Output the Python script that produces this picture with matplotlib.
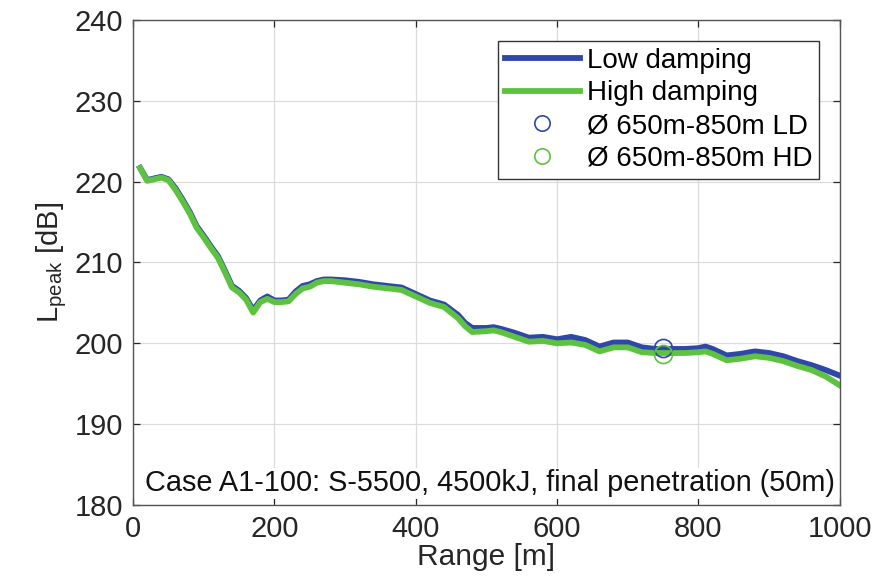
import matplotlib
matplotlib.use("Agg")
import matplotlib.pyplot as plt

plt.rcParams['font.family'] = ['Liberation Sans', 'DejaVu Sans']
plt.rcParams['mathtext.fontset'] = 'custom'
plt.rcParams['mathtext.rm'] = 'Liberation Sans'
plt.rcParams['mathtext.it'] = 'Liberation Sans'
plt.rcParams['mathtext.default'] = 'regular'

range_m = [10, 20, 30, 40, 50, 60, 70, 80, 90, 100, 110, 120, 130, 140, 150, 160, 170, 180,
           190, 200, 210, 220, 230, 240, 250, 260, 270, 280, 300, 320, 340, 360, 380, 400,
           420, 440, 460, 470, 480, 500, 510, 520, 540, 560, 580, 600, 620, 640, 660, 680,
           700, 720, 740, 760, 780, 800, 810, 820, 840, 860, 880, 900, 920, 940, 960, 980, 1000]

low_damping = [221.7, 220.2, 220.4, 220.6, 220.3, 219.2, 217.8, 216.3, 214.5, 213.3, 212.0,
               210.8, 209.0, 207.1, 206.5, 205.6, 204.1, 205.3, 205.8, 205.3, 205.3, 205.4,
               206.4, 207.1, 207.3, 207.7, 207.9, 207.9, 207.8, 207.6, 207.3, 207.1, 206.9,
               206.1, 205.3, 204.8, 203.5, 202.5, 201.9, 201.9, 202.0, 201.8, 201.3, 200.7,
               200.8, 200.5, 200.8, 200.4, 199.6, 200.1, 200.1, 199.5, 199.3, 199.3, 199.3,
               199.4, 199.6, 199.3, 198.5, 198.7, 199.0, 198.8, 198.4, 197.8, 197.3, 196.7, 196.0]

high_damping = [221.7, 220.1, 220.3, 220.5, 220.2, 219.0, 217.6, 216.1, 214.3, 213.1, 211.8,
                210.6, 208.8, 206.9, 206.3, 205.4, 203.8, 205.1, 205.5, 205.1, 205.1, 205.2,
                206.1, 206.8, 207.0, 207.5, 207.7, 207.7, 207.5, 207.3, 207.0, 206.8, 206.6,
                205.8, 205.0, 204.5, 203.1, 202.1, 201.4, 201.5, 201.6, 201.4, 200.8, 200.2,
                200.3, 200.0, 200.1, 199.8, 199.0, 199.5, 199.5, 198.9, 198.8, 198.8, 198.8,
                198.9, 199.0, 198.7, 197.9, 198.1, 198.4, 198.2, 197.8, 197.2, 196.7, 195.9, 194.8]

avg_range = [750]
avg_ld = [199.4]
avg_hd = [198.7]

x_ticks = [0, 200, 400, 600, 800, 1000]
y_ticks = [180, 190, 200, 210, 220, 230, 240]

blue = '#2E47A9'
green = '#5DC23F'
axc = '#262626'

fig = plt.figure(figsize=(8.84, 5.85), dpi=100)
ax = fig.add_axes([0.1505, 0.1368, 0.7995, 0.829])

ax.plot(range_m, low_damping, color=blue, lw=4.2, label='Low damping', solid_joinstyle='round')
ax.plot(range_m, high_damping, color=green, lw=4.2, label='High damping', solid_joinstyle='round')
ax.plot(avg_range, avg_ld, 'o', mfc='none', mec=blue, ms=13, mew=1.2, label='Ø 650m-850m LD')
ax.plot(avg_range, avg_hd, 'o', mfc='none', mec=green, ms=13, mew=1.2, label='Ø 650m-850m HD')

ax.set_xlim(0, 1000)
ax.set_ylim(180, 240)
ax.set_xticks(x_ticks)
ax.set_yticks(y_ticks)
ax.grid(True, color='#DCDCDC', lw=0.9)
ax.set_axisbelow(True)
ax.tick_params(direction='in', length=5, width=0.9, colors=axc, labelsize=21, pad=7,
               top=True, right=True)
for s in ax.spines.values():
    s.set_color('#555555')
    s.set_linewidth(1.0)

ax.set_xlabel('Range [m]', fontsize=21.5, color=axc, labelpad=0)
ax.set_ylabel(r'L$_{\mathrm{peak}}$ [dB]', fontsize=21, color=axc, labelpad=4)

leg = ax.legend(loc='upper right', fontsize=20, frameon=True, fancybox=False,
                edgecolor='#333333', framealpha=1, handlelength=2.7, handletextpad=0.25,
                borderpad=0.25, labelspacing=0.24, borderaxespad=0.75, markerscale=0.85)
leg.get_frame().set_linewidth(1.0)

ax.text(0.017, 0.045, 'Case A1-100: S-5500, 4500kJ, final penetration (50m)',
        transform=ax.transAxes, fontsize=20.8, color='#111111', va='center', ha='left',
        bbox=dict(facecolor='white', edgecolor='none', pad=1))

fig.savefig('out.png', dpi=100)
